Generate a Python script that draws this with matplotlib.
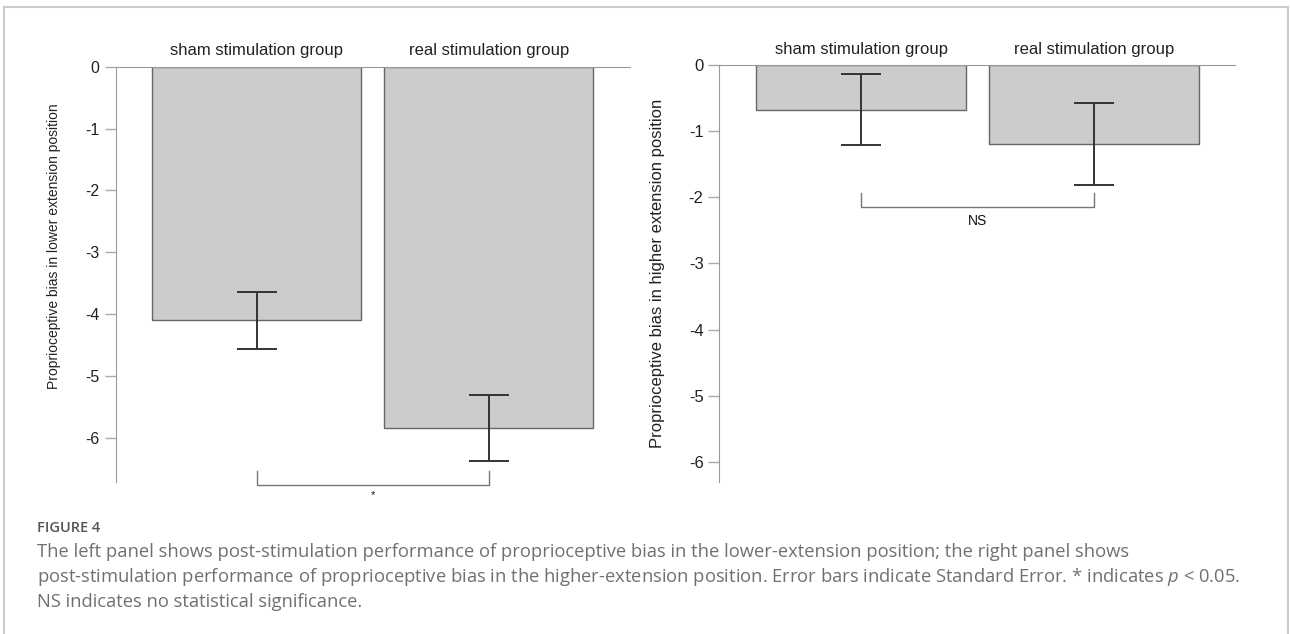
import matplotlib
matplotlib.use("Agg")
import matplotlib.pyplot as plt
from matplotlib.lines import Line2D

plt.rcParams['font.family'] = ['Liberation Sans', 'DejaVu Sans']

groups = ["sham stimulation group", "real stimulation group"]

# left panel: lower extension position
lower_mean = [-4.10, -5.845]
lower_se = [0.465, 0.535]
lower_ymin = -6.71
lower_sig = "*"
lower_bracket = [-6.53, -6.76]   # top, bottom of bracket
lower_sig_y = -6.93

# right panel: higher extension position
higher_mean = [-0.673, -1.19]
higher_se = [0.537, 0.617]
higher_ymin = -6.30
higher_sig = "NS"
higher_bracket = [-1.93, -2.14]
higher_sig_y = -2.36

W, H = 1290, 634
fig = plt.figure(figsize=(W / 100, H / 100), dpi=100)


def panel(rect, means, ses, ymin, ylabel, ylab_size, ylab_y, tick_size, bracket, sig, sig_y, sig_size):
    ax = fig.add_axes(rect)
    x = list(range(len(means)))
    ax.bar(x, means, width=0.9, color="#cccccc", edgecolor="#666666", linewidth=1.0, zorder=2)
    ax.errorbar(x, means, yerr=ses, fmt="none", ecolor="#333333", elinewidth=1.4,
                capsize=14.4, capthick=1.4, zorder=3)
    ax.set_xlim(-0.608, 1.608)
    ax.set_ylim(ymin, 0)
    ax.set_yticks(range(0, -7, -1))
    ax.set_yticklabels([str(v) for v in range(0, -7, -1)])
    ax.xaxis.set_ticks_position("top")
    ax.set_xticks(x)
    ax.set_xticklabels(groups, fontsize=12, color="#222222")
    ax.tick_params(axis="x", length=0, pad=6)
    ax.tick_params(axis="y", length=8, width=1, color="#aaaaaa", pad=3.5,
                   labelsize=tick_size, labelcolor="#222222")
    for s in ["right", "bottom"]:
        ax.spines[s].set_visible(False)
    ax.spines["left"].set_color("#999999")
    ax.spines["top"].set_color("#999999")
    ax.spines["top"].set_zorder(4)
    ax.set_ylabel(ylabel, fontsize=ylab_size, color="#222222")
    ax.yaxis.set_label_coords(-0.106, ylab_y)
    # significance bracket
    top, bot = bracket
    ax.plot([0, 0, 1, 1], [top, bot, bot, top], color="#777777", lw=1.0, clip_on=False)
    ax.text(0.5, sig_y, sig, ha="center", va="center", fontsize=sig_size, color="#111111")
    return ax


H_ax_l = (481.7 - 66.7) / H
panel([115.7 / W, 1 - 481.7 / H, (630 - 115.7) / W, H_ax_l],
      lower_mean, lower_se, lower_ymin,
      "Proprioceptive bias in lower extension position", 10, 0.568, 11.5,
      lower_bracket, lower_sig, lower_sig_y, 8)

H_ax_r = (481.7 - 65) / H
panel([719.5 / W, 1 - 481.7 / H, (1235.3 - 719.5) / W, H_ax_r],
      higher_mean, higher_se, higher_ymin,
      "Proprioceptive bias in higher extension position", 12, 0.5, 12,
      higher_bracket, higher_sig, higher_sig_y, 10)

# frame around the figure panel
frame = dict(color="#cccccc", lw=1.5, transform=fig.transFigure)
fig.add_artist(Line2D([4 / W, 4 / W], [0, 1 - 7.3 / H], **frame))
fig.add_artist(Line2D([4 / W, 1288 / W], [1 - 7.3 / H, 1 - 7.3 / H], **frame))
fig.add_artist(Line2D([1288 / W, 1288 / W], [0, 1 - 7.3 / H], **frame))

# caption
plt.rcParams['mathtext.fontset'] = 'custom'
plt.rcParams['mathtext.it'] = 'Open Sans:italic'
plt.rcParams['mathtext.rm'] = 'Open Sans'
cap_font = ['Open Sans', 'DejaVu Sans']
fig.text(37 / W, 1 - 528 / H, "FIGURE 4", family=cap_font, fontsize=10.5, fontweight="semibold",
         color="#555555", va="center")
lines = [
    "The left panel shows post-stimulation performance of proprioceptive bias in the lower-extension position; the right panel shows",
    "post-stimulation performance of proprioceptive bias in the higher-extension position. Error bars indicate Standard Error. * indicates $p$ < 0.05.",
    "NS indicates no statistical significance.",
]
for i, line in enumerate(lines):
    fig.text(37 / W, 1 - (552 + 25 * i) / H, line, family=cap_font, fontsize=13.2,
             color="#707070", va="center")

fig.savefig("out.png", dpi=100)
